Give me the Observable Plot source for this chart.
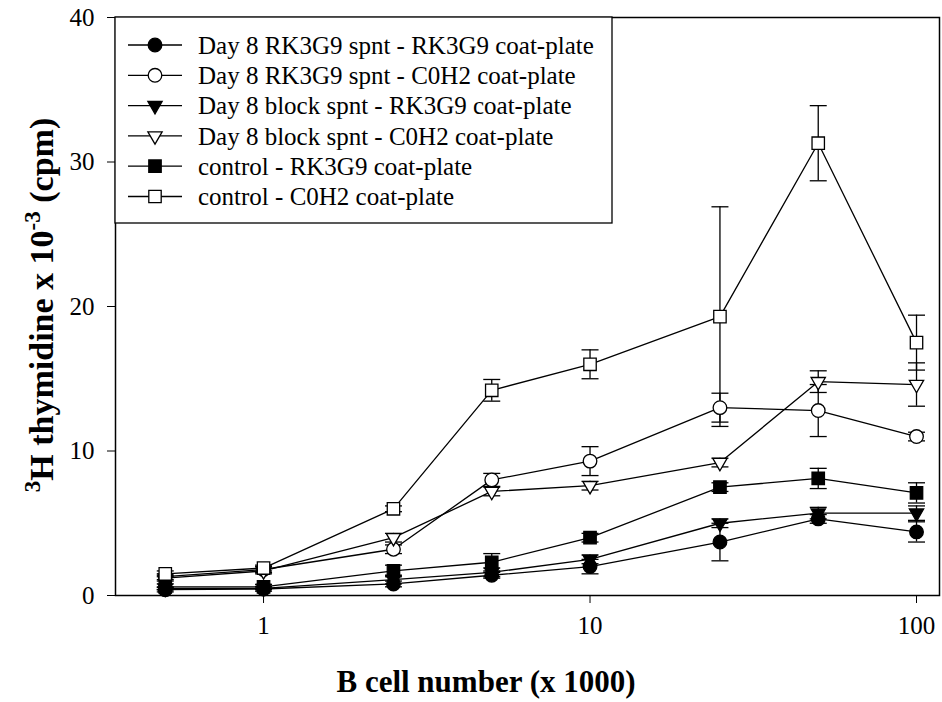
<!DOCTYPE html>
<html><head><meta charset="utf-8">
<script src="https://cdn.jsdelivr.net/npm/d3@7"></script>
<script src="https://cdn.jsdelivr.net/npm/@observablehq/plot@0.6"></script>
<style>body{margin:0;background:#fff}</style>
</head><body><div id="chart"></div>
<script>
// ---- data ----
const cellNumbers = [0.5, 1, 2.5, 5, 10, 25, 50, 100];
const seriesNames = [
  "Day 8 RK3G9 spnt - RK3G9 coat-plate",
  "Day 8 RK3G9 spnt - C0H2 coat-plate",
  "Day 8 block spnt - RK3G9 coat-plate",
  "Day 8 block spnt - C0H2 coat-plate",
  "control - RK3G9 coat-plate",
  "control - C0H2 coat-plate"
];
const rk3g9SpntRk3g9 = [0.4, 0.45, 0.8, 1.4, 2.0, 3.7, 5.3, 4.4];
const rk3g9SpntRk3g9Err = [0.15, 0.15, 0.2, 0.2, 0.5, 1.3, 0.3, 0.7];
const rk3g9SpntC0h2 = [1.3, 1.8, 3.2, 8.0, 9.3, 13.0, 12.8, 11.0];
const rk3g9SpntC0h2Err = [0.2, 0.2, 0.3, 0.45, 1.0, 1.0, 1.8, 0.3];
const blockSpntRk3g9 = [0.5, 0.5, 1.1, 1.6, 2.5, 5.0, 5.7, 5.7];
const blockSpntRk3g9Err = [0.1, 0.1, 0.3, 0.3, 0.3, 0.3, 0.4, 0.5];
const blockSpntC0h2 = [1.2, 1.7, 4.0, 7.2, 7.6, 9.2, 14.8, 14.6];
const blockSpntC0h2Err = [0.2, 0.2, 0.3, 0.3, 0.3, 0.3, 0.75, 1.5];
const controlRk3g9 = [0.6, 0.6, 1.7, 2.3, 4.0, 7.5, 8.1, 7.1];
const controlRk3g9Err = [0.2, 0.15, 0.4, 0.6, 0.3, 0.3, 0.7, 0.7];
const controlC0h2 = [1.5, 1.9, 6.0, 14.2, 16.0, 19.3, 31.3, 17.5];
const controlC0h2Err = [0.2, 0.2, 0.2, 0.75, 1.0, 7.6, 2.6, 1.9];
const xTicks = [1, 10, 100];
const yTicks = [0, 10, 20, 30, 40];

const seriesValues = [rk3g9SpntRk3g9, rk3g9SpntC0h2, blockSpntRk3g9, blockSpntC0h2, controlRk3g9, controlC0h2];
const seriesErrors = [rk3g9SpntRk3g9Err, rk3g9SpntC0h2Err, blockSpntRk3g9Err, blockSpntC0h2Err, controlRk3g9Err, controlC0h2Err];
// marker styles (symbol, filled, r, rotate)
const markerStyles = [
  {symbol: "circle", fill: "black", r: 6.8, rotate: 0},
  {symbol: "circle", fill: "white", r: 6.8, rotate: 0},
  {symbol: "triangle", fill: "black", r: 5.3, rotate: 180},
  {symbol: "triangle", fill: "white", r: 5.3, rotate: 180},
  {symbol: "square", fill: "black", r: 7, rotate: 0},
  {symbol: "square", fill: "white", r: 7, rotate: 0}
];

const rows = [];
seriesNames.forEach((name, i) => {
  cellNumbers.forEach((x, j) => {
    rows.push({series: name, idx: i, x, y: seriesValues[i][j], err: seriesErrors[i][j]});
  });
});

const capSymbol = {draw(ctx) { ctx.moveTo(-8.5, 0); ctx.lineTo(8.5, 0); }};
const FONT = "Liberation Serif, Times New Roman, serif";

const marks = [
  Plot.frame({stroke: "black", strokeWidth: 1.5}),
  Plot.ruleX(rows, {x: "x", y1: d => d.y - d.err, y2: d => d.y + d.err, stroke: "black", strokeWidth: 1.3}),
  Plot.dot(rows, {x: "x", y: d => d.y + d.err, symbol: capSymbol, stroke: "black", strokeWidth: 1.3, fill: "none"}),
  Plot.dot(rows, {x: "x", y: d => d.y - d.err, symbol: capSymbol, stroke: "black", strokeWidth: 1.3, fill: "none"}),
  Plot.line(rows, {x: "x", y: "y", z: "series", stroke: "black", strokeWidth: 1.3}),
  ...markerStyles.map((m, i) => Plot.dot(rows.filter(d => d.idx === i), {
    x: "x", y: "y", symbol: m.symbol, r: m.r, fill: m.fill, stroke: "black", strokeWidth: 1.3, rotate: m.rotate
  })),
  Plot.axisX({ticks: xTicks, tickSize: 8, tickPadding: 13, tickFormat: d => String(d), label: null, fontSize: 25}),
  Plot.axisY({ticks: yTicks, tickSize: 8, tickPadding: 13, label: null, fontSize: 25})
];

const chart = Plot.plot({
  width: 942,
  height: 702,
  marginLeft: 115,
  marginRight: 3,
  marginTop: 17,
  marginBottom: 107,
  style: {fontFamily: FONT, fontSize: "25px", color: "black", background: "white"},
  x: {type: "log", domain: [0.352, 117.6]},
  y: {domain: [0, 40]},
  marks
});

const svg = d3.select(chart);

// Y axis title
const yt = svg.append("text")
  .attr("transform", "translate(53,305) rotate(-90)")
  .attr("text-anchor", "middle")
  .attr("font-family", FONT).attr("font-weight", "bold").attr("font-size", 34).attr("fill", "black");
yt.append("tspan").attr("font-size", 23).attr("dy", -13).text("3");
yt.append("tspan").attr("dy", 13).text("H thymidine x 10");
yt.append("tspan").attr("font-size", 23).attr("dy", -13).text("-3");
yt.append("tspan").attr("dy", 13).text(" (cpm)");

// X axis title
svg.append("text")
  .attr("x", 486).attr("y", 692)
  .attr("text-anchor", "middle")
  .attr("font-family", FONT).attr("font-weight", "bold").attr("font-size", 31).attr("fill", "black")
  .text("B cell number (x 1000)");

// Legend
const lg = svg.append("g");
lg.append("rect").attr("x", 115).attr("y", 17).attr("width", 497).attr("height", 206)
  .attr("fill", "white").attr("stroke", "black").attr("stroke-width", 1.3);
seriesNames.forEach((name, i) => {
  const cy = 45 + i * 30.3;
  const m = markerStyles[i];
  lg.append("line").attr("x1", 128).attr("x2", 182).attr("y1", cy).attr("y2", cy)
    .attr("stroke", "black").attr("stroke-width", 1.3);
  const symType = m.symbol === "circle" ? d3.symbolCircle : m.symbol === "square" ? d3.symbolSquare : d3.symbolTriangle;
  lg.append("path").attr("d", d3.symbol(symType, Math.PI * m.r * m.r)())
    .attr("transform", `translate(155,${cy}) rotate(${m.rotate})`)
    .attr("fill", m.fill).attr("stroke", "black").attr("stroke-width", 1.3);
  lg.append("text").attr("x", 198).attr("y", cy).attr("dy", "0.35em")
    .attr("text-anchor", "start")
    .attr("font-family", FONT).attr("font-size", 25).attr("fill", "black").text(name);
});

document.getElementById("chart").appendChild(chart);
</script>
</body></html>
